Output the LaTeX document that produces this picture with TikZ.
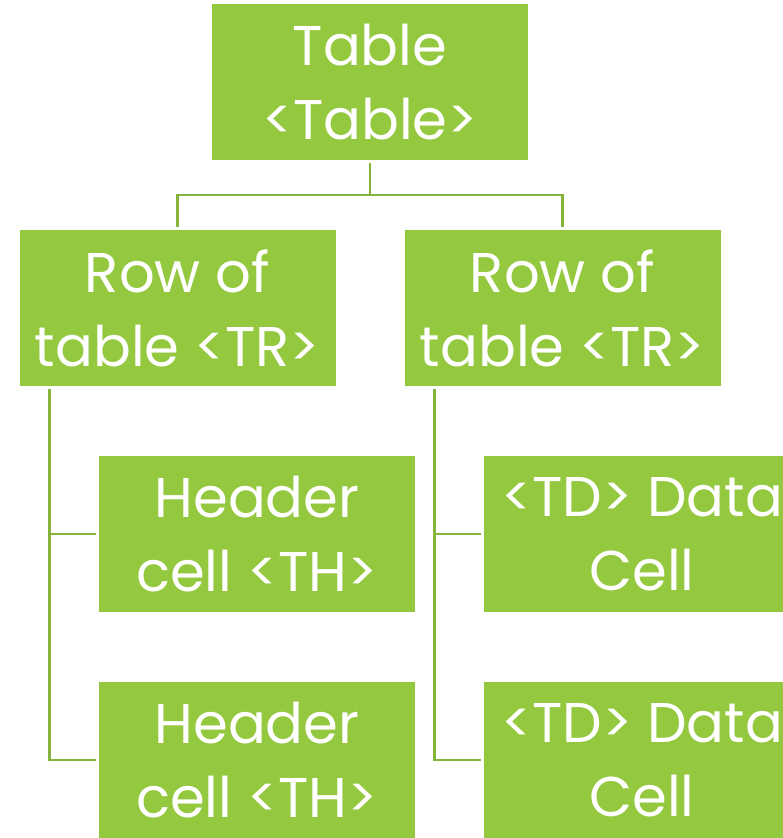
\documentclass[tikz,border=0pt]{standalone}
\usepackage{fontspec}
\setmainfont{Poppins}
\usetikzlibrary{trees}
\definecolor{leafgreen}{HTML}{94C83F}
\definecolor{linegreen}{HTML}{86B33C}

\begin{document}
\begin{tikzpicture}[x=1pt,y=1pt,
    box/.style={fill=leafgreen, text=white, minimum width=316pt, minimum height=156pt,
        inner sep=0pt, align=center, font=\fontsize{56}{74}\selectfont},
    edge from parent/.style={draw=linegreen, line width=2.5pt},
    level 1/.style={sibling distance=385pt, level distance=226pt,
        edge from parent path={([yshift=-3pt]\tikzparentnode.south) -- ++(0,-32)
            -| ([yshift=3pt]\tikzchildnode.north)}},
    level 2/.style={grow via three points={one child at (79.5,-226) and
            two children at (79.5,-226) and (79.5,-452)},
        edge from parent path={([xshift=30pt,yshift=-3pt]\tikzparentnode.south west)
            |- ([xshift=-3pt]\tikzchildnode.west)}}]
\useasboundingbox (0,0) rectangle (782,-838);
\node[box] (table) at (370,-82) {Table\\<Table>}
    child { node[box] (rowA) {Row of\\table <TR>}
            child {node[box] (headA) {Header\\cell <TH>}}
            child {node[box] (headB) {Header\\cell <TH>}}
    }
    child { node[box] (rowB) {Row of\\table <TR>}
            child {node[box] (dataA) {<TD> Data\\Cell}}
            child {node[box] (dataB) {<TD> Data\\Cell}}
    };

\end{tikzpicture}
\end{document}
